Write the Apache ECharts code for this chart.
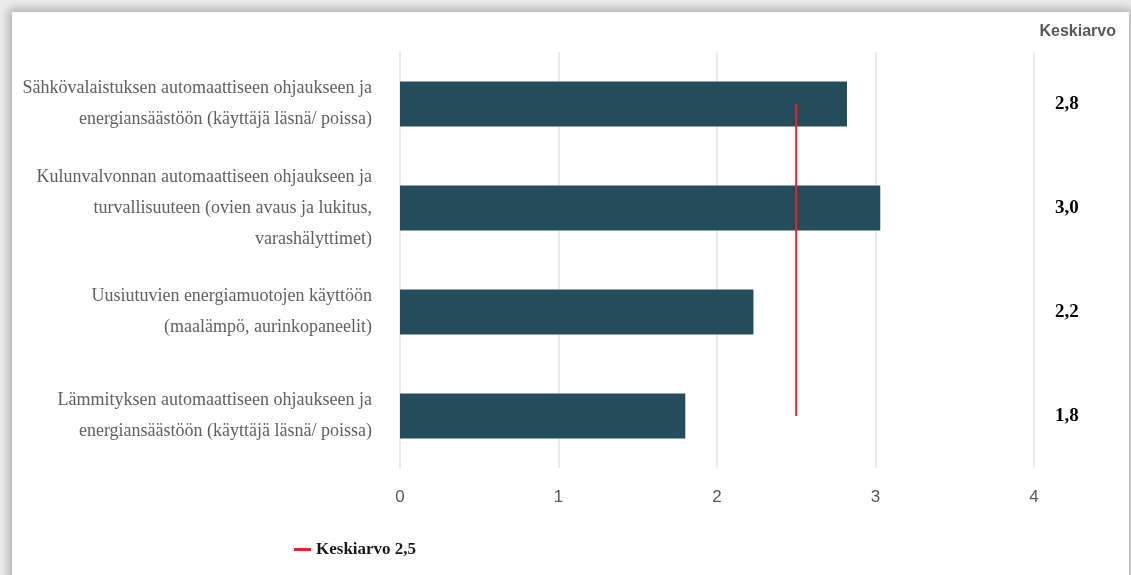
<!DOCTYPE html>
<html>
<head>
<meta charset="utf-8">
<script src="https://cdn.jsdelivr.net/npm/echarts@6/dist/echarts.min.js"></script>
<style>
  html, body { margin: 0; padding: 0; background: #ececec; }
  #card {
    position: absolute; left: 12px; top: 12px; width: 1117px; height: 600px;
    background: #ffffff; box-shadow: 0 0 10px 3px rgba(0,0,0,0.28);
  }
  #chart { position: absolute; left: 0; top: 0; width: 1131px; height: 575px; }
</style>
</head>
<body>
<div id="card"></div>
<div id="chart"></div>
<script>
// Survey items (top to bottom)
const categories = [
  'Sähkövalaistuksen automaattiseen ohjaukseen ja\nenergiansäästöön (käyttäjä läsnä/ poissa)',
  'Kulunvalvonnan automaattiseen ohjaukseen ja\nturvallisuuteen (ovien avaus ja lukitus,\nvarashälyttimet)',
  'Uusiutuvien energiamuotojen käyttöön\n(maalämpö, aurinkopaneelit)',
  'Lämmityksen automaattiseen ohjaukseen ja\nenergiansäästöön (käyttäjä läsnä/ poissa)'
];
// Mean score per item
const barValues = [2.82, 3.03, 2.23, 1.80];
// Overall mean
const overallMean = 2.5;
const meanSeries = categories.map(() => overallMean);
const meanName = 'Keskiarvo 2,5';
const xTicks = [0, 1, 2, 3, 4];
// Right-hand column: item means, one decimal, comma separator
const meanLabels = barValues.map(v => v.toFixed(1).replace('.', ','));

const chart = echarts.init(document.getElementById('chart'));
chart.setOption({
  backgroundColor: 'transparent',
  animation: false,
  title: {
    text: 'Keskiarvo',
    right: 10, top: 19,
    textStyle: { fontFamily: 'Liberation Sans Narrow, Liberation Sans, sans-serif', fontSize: 16, fontWeight: 'bold', color: '#595959' }
  },
  legend: {
    data: [meanName],
    left: 289, top: 536,
    icon: 'rect', itemWidth: 17, itemHeight: 3, itemGap: 6,
    textStyle: { fontFamily: 'Liberation Serif, serif', fontSize: 17, fontWeight: 'bold', color: '#1a1a1a' }
  },
  grid: { left: 400, right: 97, top: 52, bottom: 107, containLabel: false },
  xAxis: {
    type: 'value', min: xTicks[0], max: xTicks[xTicks.length - 1], interval: 1,
    axisLine: { show: false }, axisTick: { show: false },
    splitLine: { show: true, lineStyle: { color: '#e3e3e3', width: 1.5 } },
    axisLabel: { margin: 21, color: '#595959', fontSize: 17, fontFamily: 'Liberation Sans Narrow, Liberation Sans, sans-serif' }
  },
  yAxis: [
    {
      type: 'category', data: categories, inverse: true,
      axisLine: { show: false }, axisTick: { show: false },
      axisLabel: {
        margin: 28, align: 'right', color: '#5f5f5f', fontSize: 18, lineHeight: 31,
        fontFamily: 'Liberation Serif, serif'
      }
    },
    {
      type: 'category', data: meanLabels, inverse: true, position: 'right',
      axisLine: { show: false }, axisTick: { show: false },
      axisLabel: {
        margin: 21, align: 'left', color: '#000000', fontSize: 19, fontWeight: 'bold',
        fontFamily: 'Liberation Serif, serif'
      }
    }
  ],
  series: [
    {
      type: 'bar', data: barValues, barWidth: 45, yAxisIndex: 0,
      itemStyle: { color: '#244c5a' },
      label: { show: false }
    },
    {
      name: meanName, type: 'line', data: meanSeries, yAxisIndex: 0,
      symbol: 'none', z: 5,
      lineStyle: { color: '#e8232b', width: 2 },
      itemStyle: { color: '#e8232b' }
    }
  ]
});
</script>
</body>
</html>
